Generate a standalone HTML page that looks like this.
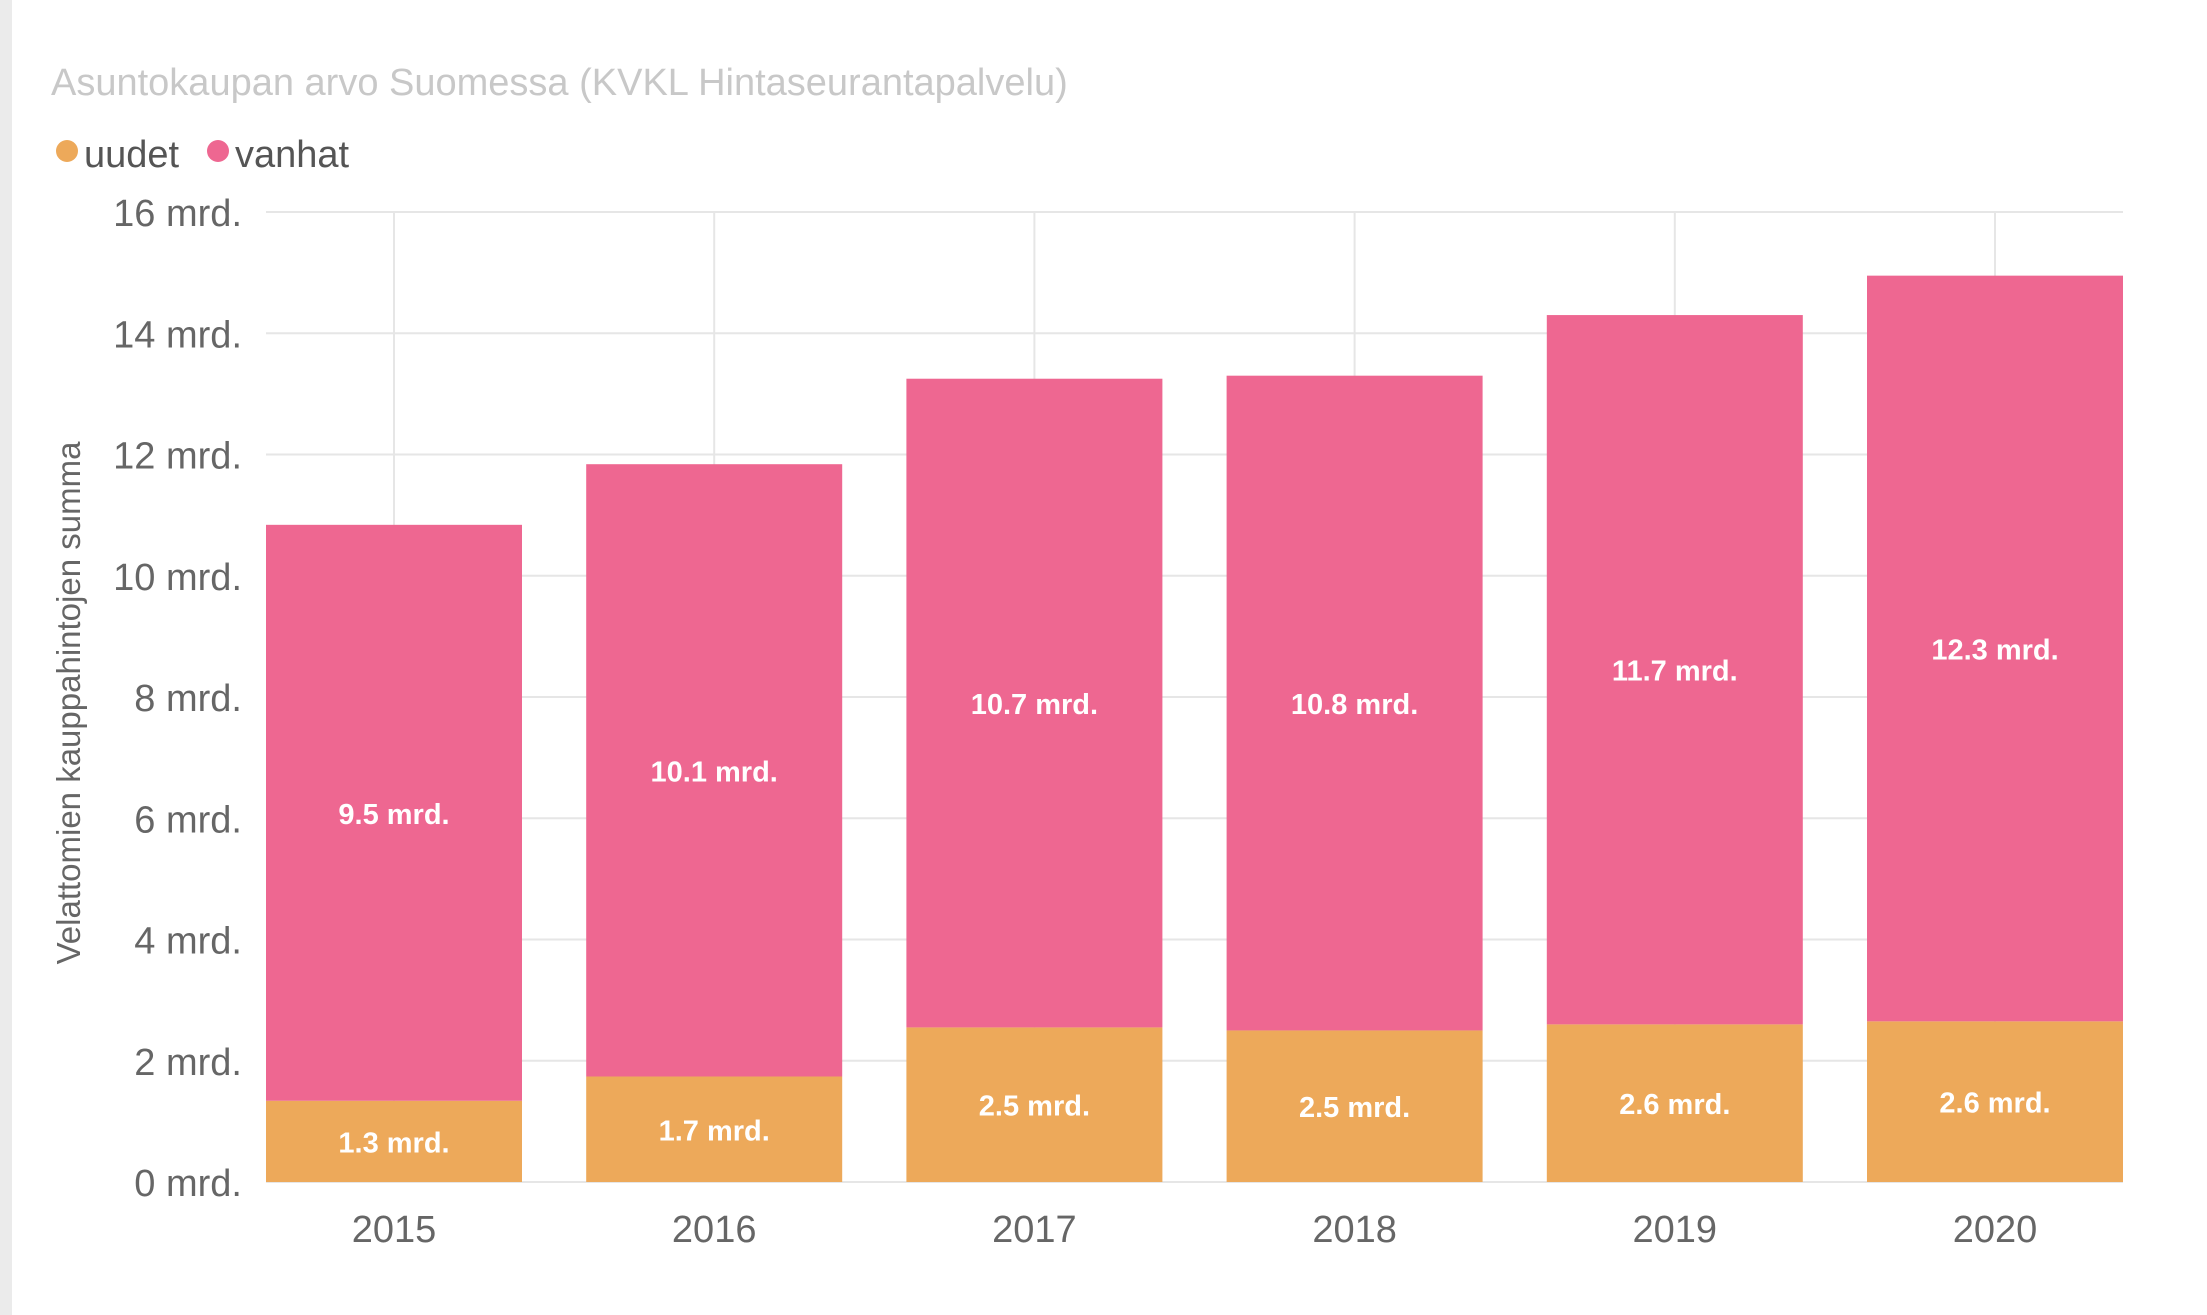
<!DOCTYPE html>
<html><head><meta charset="utf-8"><style>
html,body{margin:0;padding:0;background:#fff;}
svg{display:block;font-family:"Liberation Sans",sans-serif;}
</style></head><body>
<svg id="chart" width="2207" height="1315" viewBox="0 0 2207 1315">
<rect x="0" y="0" width="12" height="1315" fill="#ebebeb"/>
<text x="51" y="95" font-size="38" fill="#c8c8c8">Asuntokaupan arvo Suomessa (KVKL Hintaseurantapalvelu)</text>
<g>
<circle cx="67" cy="151" r="11" fill="#EDA95A"/>
<text x="84" y="167" font-size="38" fill="#555">uudet</text>
<circle cx="218" cy="151" r="11" fill="#EE6791"/>
<text x="235" y="167" font-size="38" fill="#555">vanhat</text>
</g>
<text transform="translate(80,703) rotate(-90)" text-anchor="middle" font-size="33" fill="#666">Velattomien kauppahintojen summa</text>
<g id="grid"></g><g id="bars"></g><g id="labels"></g>
</svg>
<script>
const years = ["2015","2016","2017","2018","2019","2020"];
const uudet = [1.34, 1.74, 2.55, 2.5, 2.6, 2.65];
const vanhat = [9.5, 10.1, 10.7, 10.8, 11.7, 12.3];
const uudetLabels = ["1.3 mrd.","1.7 mrd.","2.5 mrd.","2.5 mrd.","2.6 mrd.","2.6 mrd."];
const vanhatLabels = ["9.5 mrd.","10.1 mrd.","10.7 mrd.","10.8 mrd.","11.7 mrd.","12.3 mrd."];
const yTicks = [0,2,4,6,8,10,12,14,16];

const NS="http://www.w3.org/2000/svg";
const x0=266, band=320.2, barW=256, yZero=1182, yMax=16, plotH=1182-212;
const y=v=>yZero - v/yMax*plotH;
const xc=i=>x0 + i*band + barW/2;
function mk(tag,attrs,parent){const e=document.createElementNS(NS,tag);for(const k in attrs)e.setAttribute(k,attrs[k]);parent.appendChild(e);return e;}
const grid=document.getElementById('grid'), bars=document.getElementById('bars'), labels=document.getElementById('labels');
yTicks.forEach(t=>{
  const l=mk('line',{x1:x0,x2:x0+5*band+barW,y1:y(t),y2:y(t),stroke:'#e6e6e6','stroke-width':2},grid);
  
  
  const tx=mk('text',{x:242,y:y(t)+14,'text-anchor':'end','font-size':38,fill:'#666'},grid);
  tx.textContent=t+' mrd.';
  
  
});
years.forEach((yr,i)=>{
  const vl=mk('line',{x1:xc(i),x2:xc(i),y1:y(yMax),y2:y(0),stroke:'#e6e6e6','stroke-width':2},grid);
  
  
  const bx=x0+i*band;
  const r1=mk('rect',{x:bx,y:y(uudet[i]),width:barW,height:y(0)-y(uudet[i]),fill:'#EDA95A'},bars);
  
  
  const tot=uudet[i]+vanhat[i];
  const r2=mk('rect',{x:bx,y:y(tot),width:barW,height:y(uudet[i])-y(tot),fill:'#EE6791'},bars);
  
  
  const l1=mk('text',{x:xc(i),y:(y(0)+y(uudet[i]))/2+11,'text-anchor':'middle','font-size':29,'font-weight':'bold',fill:'#fff'},labels);
  l1.textContent=uudetLabels[i];
  
  
  const l2=mk('text',{x:xc(i),y:(y(uudet[i])+y(tot))/2+11,'text-anchor':'middle','font-size':29,'font-weight':'bold',fill:'#fff'},labels);
  l2.textContent=vanhatLabels[i];
  
  
  const xl=mk('text',{x:xc(i),y:1242,'text-anchor':'middle','font-size':38,fill:'#666'},labels);
  xl.textContent=yr;
  
  
});
</script>
</body></html>
